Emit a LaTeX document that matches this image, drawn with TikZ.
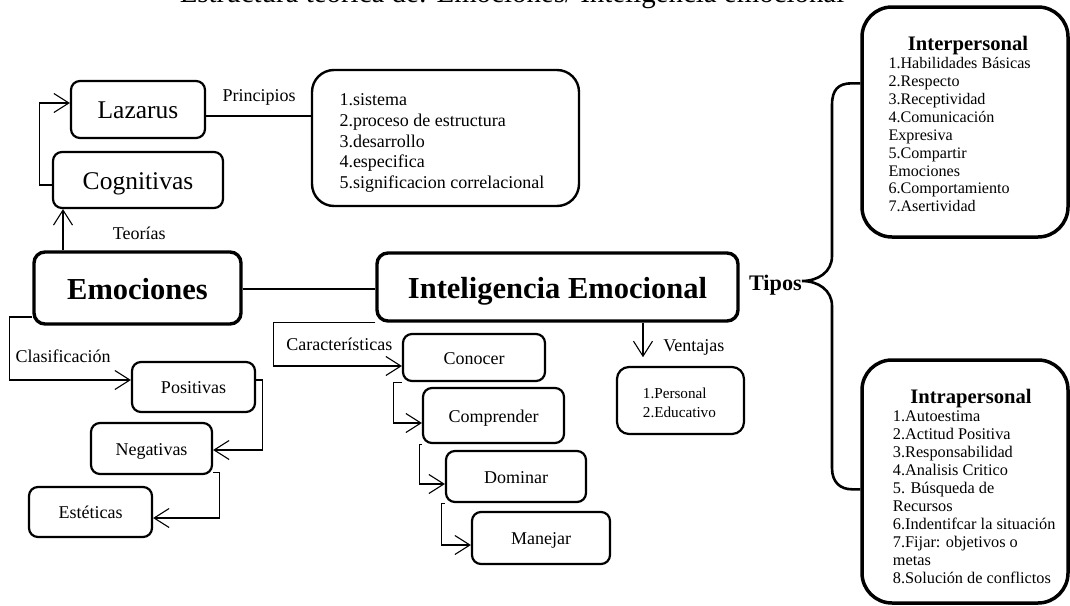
\documentclass[tikz,border=0pt]{standalone}
\usepackage{fontspec}
\setmainfont{Liberation Serif}
\usetikzlibrary{arrows.meta}
\newcommand{\fsz}[2]{\fontsize{#1}{#2}\selectfont}
\begin{document}
\begin{tikzpicture}[x=1pt,y=-1pt,
  rbox/.style={draw, line width=2.2pt, rounded corners=9pt, inner sep=0pt},
  lbl/.style={rbox, align=center},
  big/.style={lbl, line width=3.4pt, rounded corners=11pt, font=\fsz{30.5}{34}\bfseries, text height=24pt, text depth=2pt},
  mid/.style={lbl, font=\fsz{25.5}{28}, text height=20.4pt, text depth=1.5pt},
  sml/.style={lbl, font=\fsz{18}{20}, text height=14.4pt, text depth=1.1pt},
  list/.style={anchor=north west, inner sep=0pt, align=left},
  tag/.style={anchor=base, inner sep=0pt, font=\fsz{18}{20}},
  line/.style={line width=1.1pt},
  arr/.style={line width=1.1pt, -{Straight Barb[length=15pt,width=19pt,line width=1.1pt]}},
  brace/.style={line width=2.6pt}
]
\useasboundingbox (0,0) rectangle (1070,605);
\clip (0,0) rectangle (1070,605);

% title (cut off at the top)
\node[anchor=base, inner sep=0pt, font=\fsz{28.9}{32}] (title) at (512,2) {Estructura teórica de: Emociones/ Inteligencia emocional};

% main nodes
\node[big, minimum width=207, minimum height=72] (emoc) at (137.5,288) {Emociones};
\node[big, minimum width=361, minimum height=68] (ie) at (557.5,287) {Inteligencia Emocional};

% theories
\node[mid, minimum width=170, minimum height=56] (cogn) at (138,180) {Cognitivas};
\node[mid, minimum width=134, minimum height=57] (laz) at (138,109.5) {Lazarus};
\node[rbox, line width=2.4pt, rounded corners=22pt, minimum width=267, minimum height=136] (princ) at (445.5,138) {};
\node[list, font=\fsz{18}{20.7}] (princtxt) at (339.3,93.7) {1.sistema\\2.proceso de estructura\\3.desarrollo\\4.especifica\\5.significacion correlacional};

% classification
\node[sml, minimum width=123, minimum height=50] (pos) at (193.5,387) {Positivas};
\node[sml, minimum width=121, minimum height=51] (neg) at (151.5,448.5) {Negativas};
\node[sml, minimum width=123, minimum height=50] (est) at (90.5,512) {Estéticas};

% characteristics
\node[sml, minimum width=142, minimum height=47] (con) at (474,357.5) {Conocer};
\node[sml, minimum width=141, minimum height=55] (comp) at (493.5,415.5) {Comprender};
\node[sml, minimum width=140, minimum height=51] (dom) at (516,476.5) {Dominar};
\node[sml, minimum width=138, minimum height=52] (man) at (541,538) {Manejar};

% advantages
\node[rbox, rounded corners=12pt, minimum width=127, minimum height=67] (vent) at (680.5,400.5) {};
\node[list, font=\fsz{15.2}{18.4}] (venttxt) at (642.7,388) {1.Personal\\2.Educativo};

% types
\node[rbox, line width=3.5pt, rounded corners=30pt, minimum width=206, minimum height=230] (inter) at (965,122) {};
\node[anchor=base, inner sep=0pt, font=\fsz{20.6}{22}\bfseries] (intertit) at (968,50) {Interpersonal};
\node[list, font=\fsz{16.1}{17.85}] (intertxt) at (888.3,57.6) {1.Habilidades Básicas\\2.Respecto\\3.Receptividad\\4.Comunicación\\Expresiva\\5.Compartir\\Emociones\\6.Comportamiento\\7.Asertividad};

\node[rbox, line width=3.5pt, rounded corners=30pt, minimum width=206, minimum height=243] (intra) at (965,481.5) {};
\node[anchor=base, inner sep=0pt, font=\fsz{20.6}{22}\bfseries] (intratit) at (971,403.3) {Intrapersonal};
\node[list, font=\fsz{16.3}{17.96}] (intratxt) at (892.7,410.9) {1.Autoestima\\2.Actitud Positiva\\3.Responsabilidad\\4.Analisis Critico\\5. Búsqueda de\\Recursos\\6.Indentifcar la situación\\7.Fijar: objetivos o\\metas\\8.Solución de conflictos};

% labels
\node[tag] (tprinc) at (259,101.7) {Principios};
\node[tag] (tteor) at (139.2,239) {Teorías};
\node[tag] (tclas) at (63.2,362.3) {Clasificación};
\node[tag] (tcar) at (339.3,350.7) {Características};
\node[tag] (tvent) at (693.8,351.7) {Ventajas};
\node[anchor=base, inner sep=0pt, font=\fsz{22.2}{24}\bfseries] (tipos) at (775.4,290) {Tipos};

% connectors
\draw[arr] (emoc.north -| 63,0) -- (cogn.south -| 63,0);
\draw[arr] ([yshift=-5pt]cogn.west) -- ++(-12.3,0) |- ([yshift=6.5pt]laz.west);
\draw[line] (laz.east |- 0,116) -- (princ.west |- 0,116);
\draw[line] (emoc.east |- 0,289) -- (ie.west |- 0,289);

\draw[arr] (emoc.west |- 0,317) -- ++(-23,0) |- ([yshift=7pt]pos.west);
\draw[arr] ([yshift=7pt]pos.east) -- ++(6.7,0) |- ([yshift=-1.5pt]neg.east);
\draw[arr] ([yshift=-24pt]neg.east) -- ++(6.3,0) |- ([yshift=-6pt]est.east);

\draw[arr] (ie.south west) -- ++(-102,0) |- ([yshift=-8.5pt]con.west);
\draw[arr] (con.south west) -- ++(-8,0) |- ([yshift=-7.5pt]comp.west);
\draw[arr] (comp.south west) -- ++(-2.5,0) |- ([yshift=-7.5pt]dom.west);
\draw[arr] (dom.south west) -- ++(-3.3,0) |- ([yshift=-7pt]man.west);

\draw[arr] (ie.south -| 643,0) -- ([yshift=8.7pt]vent.north -| 643,0);

% brace
\draw[brace] (inter.west |- 0,83.3) -- (852,83.3) .. controls (838,83.3) and (832,90) .. (832,105) -- (832,256)
  .. controls (832,272) and (818,281) .. (tipos.base east |- 0,281)
  .. controls (818,281) and (832,290) .. (832,306) -- (832,468)
  .. controls (832,482) and (840,489.3) .. (852,489.3) -- (intra.west |- 0,489.3);
\end{tikzpicture}
\end{document}
